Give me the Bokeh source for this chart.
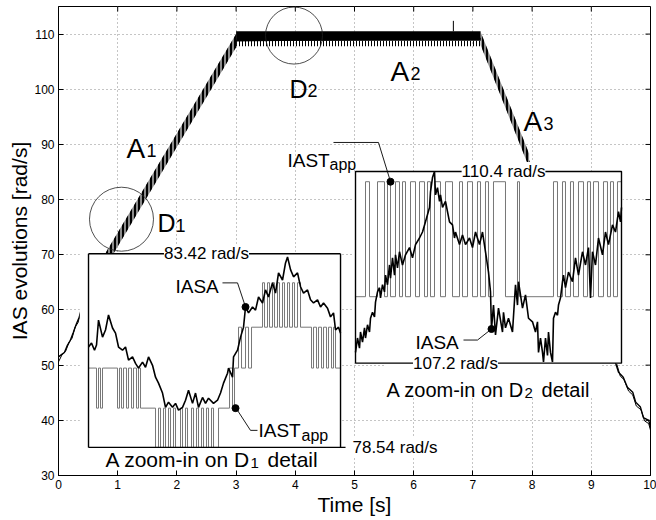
from bokeh.plotting import figure
from bokeh.models import Range1d, FixedTicker, Label
from bokeh.embed import file_html
from bokeh.resources import INLINE

FONT = "Liberation Sans"

# ---------------- axis ticks ----------------
x_ticks = [0, 1, 2, 3, 4, 5, 6, 7, 8, 9, 10]
y_ticks = [30, 40, 50, 60, 70, 80, 90, 100, 110]

# ---------------- main IAS trace (rad/s vs s) ----------------
main_t = [0.00, 0.05, 0.10, 0.15, 0.20, 0.25, 0.30, 0.35, 0.40, 0.88, 1.50, 2.00, 2.50, 2.90, 3.00,
          7.13, 7.50, 7.92, 9.41, 9.46, 9.54, 9.61, 9.70, 9.75, 9.83, 9.88, 9.97, 10.00]
main_y = [51.5, 51.9, 52.3, 53.6, 54.5, 55.9, 57.4, 58.7, 60.8, 70.6, 81.6, 90.8, 100.0, 107.2, 108.8,
          109.2, 99.2, 87.6, 50.4, 48.7, 47.8, 46.0, 45.1, 43.3, 42.4, 40.5, 40.0, 38.7]
# second (overlapping) trace, visible at the start and at the end
main2_start_t = [0.00, 0.06, 0.12, 0.18, 0.23, 0.28, 0.33, 0.38, 0.40]
main2_start_y = [50.6, 51.9, 52.5, 54.2, 54.9, 56.9, 57.7, 59.8, 60.3]
main2_end_t = [9.43, 9.49, 9.55, 9.63, 9.70, 9.76, 9.84, 9.90, 9.97, 10.00]
main2_end_y = [50.2, 48.0, 47.4, 45.3, 44.6, 42.6, 41.9, 39.9, 39.4, 38.2]

# oscillation envelopes (A1 rise, A2 plateau, A3 fall)
rise_t = [0.80, 3.00]
rise_lo = [67.9, 107.6]
rise_hi = [70.4, 110.0]
plateau_t = [3.00, 7.13]
plateau_lo = [108.8, 108.8]
plateau_hi = [110.5, 110.5]
plateau_comb_lo = [107.8, 107.8]
fall_t = [7.13, 7.95]
fall_lo = [108.0, 85.8]
fall_hi = [110.4, 88.3]
spike_t = [6.67]
spike_y0 = [110.5]
spike_y1 = [112.4]

# ---------------- inset D1 (samples, rad/s) ----------------
in1_xlim = [0, 252]
in1_ylim = [78.54, 83.42]
in1_gray_x = [0, 8, 10, 12, 14,
              29, 31, 33, 35, 38, 40, 43, 45, 48, 50, 52,
              67, 70, 72, 75, 77, 80, 82, 85, 87, 92, 94, 97, 99, 103, 105, 108, 110, 113, 115, 118, 120, 123, 125, 130,
              141, 144, 146, 150, 153, 157, 160, 163,
              174, 176, 179, 181, 184, 186, 189, 191, 194, 196, 199, 201, 204, 206, 209, 212,
              223, 225, 228, 230, 233, 235, 238, 240, 243, 245, 247, 252]
in1_gray_y = [80.54, 79.53, 80.54, 79.53, 80.54,
              79.53, 80.54, 79.53, 80.54, 79.53, 80.54, 79.53, 80.54, 79.53, 80.54, 79.53,
              78.54, 79.53, 78.54, 79.53, 78.54, 79.53, 78.54, 79.53, 78.54, 79.53, 78.54, 79.53, 78.54, 79.53, 78.54, 79.53,
              78.54, 79.53, 78.54, 79.53, 78.54, 79.53, 78.54, 79.53,
              80.54, 79.53, 80.54, 81.57, 80.54, 81.57, 80.54, 81.57,
              82.69, 81.57, 82.69, 81.57, 82.69, 81.57, 82.69, 81.57, 82.69, 81.57, 82.69, 81.57, 82.69, 81.57, 82.69, 81.57,
              80.54, 81.57, 80.54, 81.57, 80.54, 81.57, 80.54, 81.57, 80.54, 81.57, 80.54, 80.54]
in1_black_x = [0, 3, 6, 8, 10, 14, 17, 20, 24, 27, 30, 34, 37, 40, 44, 47, 50, 54, 57, 60,
               64, 67, 70, 74, 77, 80, 84, 87, 90, 94, 97, 100, 104, 107, 110, 114, 117, 120, 125, 129,
               132, 135, 139, 140, 144, 145, 149, 152, 155, 157, 160, 164, 167, 170, 174, 177, 180, 184, 187, 190,
               194, 197, 199, 202, 205, 209, 212, 215, 219, 222, 225, 229, 232, 235, 239, 242, 245, 247, 250, 252]
in1_black_y = [81.07, 81.17, 80.99, 81.12, 81.75, 81.32, 81.50, 81.88, 81.55, 81.42,
               81.07, 80.99, 81.07, 80.74, 80.82, 80.66, 80.54, 80.69, 80.56, 80.82,
               80.61, 80.31, 80.16, 79.91, 79.55, 79.68, 79.55, 79.65, 79.48, 79.55,
               79.73, 79.98, 79.65, 79.91, 79.55, 79.80, 79.65, 79.78, 79.65, 79.73,
               79.91, 80.16, 80.41, 80.54, 80.31, 80.82, 80.99, 81.32, 81.57, 82.08,
               81.93, 82.08, 82.00, 82.33, 82.18, 82.51, 82.33, 82.69, 82.43, 82.94,
               82.76, 83.19, 83.34, 83.02, 82.84, 82.94, 82.59, 82.43, 82.51, 82.26,
               82.18, 82.26, 82.08, 82.18, 82.05, 81.83, 81.93, 81.50, 81.57, 81.42]
in1_iasa_dot = (157, 82.08)
in1_iast_dot = (147, 79.53)

# ---------------- inset D2 (samples, rad/s) ----------------
in2_xlim = [0, 266]
in2_ylim = [107.2, 110.4]
in2_gray_x = [0, 10, 14, 22, 29, 32, 35, 40, 44, 47, 50, 55, 60, 64, 69, 72, 75, 79, 85, 90,
              97, 104, 107, 112, 117, 122, 125, 130, 133, 138, 150, 162, 164, 198, 202,
              207, 210, 215, 218, 223, 228, 232, 235, 238, 243, 248, 252, 255, 258, 262, 266]
in2_gray_y = [108.31, 110.23] * 25 + [110.23]
in2_black_x = [0, 2, 4, 5, 7, 9, 10, 12, 14, 15, 17, 19, 20, 22, 24, 25, 27, 29, 30, 32,
               34, 35, 37, 39, 40, 42, 44, 47, 50, 54, 57, 60, 64, 67, 70, 74, 75, 77, 79, 80,
               82, 84, 85, 87, 90, 94, 97, 99, 100, 104, 107, 110, 114, 117, 120, 124, 127, 130, 133, 135,
               136, 138, 140, 143, 147, 148, 150, 153, 157, 160, 162, 163, 167, 170, 173, 177, 180, 182, 183, 185,
               187, 188, 190, 192, 193, 195, 197, 198, 200, 202, 203, 205, 207, 208, 210, 213, 217, 220, 223, 227,
               230, 233, 235, 237, 240, 243, 247, 250, 253, 257, 260, 263, 265, 266]
in2_black_y = [107.38, 107.62, 107.45, 107.72, 107.55, 107.79, 107.62, 107.84, 107.72, 107.95,
               108.05, 107.97, 108.22, 108.39, 108.46, 108.29, 108.51, 108.39, 108.67, 108.51,
               108.84, 108.62, 108.96, 108.67, 109.01, 108.79, 109.06, 108.84, 109.01, 109.13,
               108.96, 109.18, 109.29, 109.39, 109.56, 109.80, 110.06, 110.30, 110.40, 110.01,
               110.13, 109.90, 110.01, 109.80, 109.90, 109.56, 109.51, 109.29, 109.39, 109.18,
               109.34, 109.18, 109.29, 109.13, 109.39, 109.18, 109.39, 109.06, 108.72, 108.39,
               107.77, 108.17, 107.67, 108.12, 107.72, 108.05, 107.79, 107.95, 107.72, 108.51,
               108.17, 108.56, 108.12, 108.34, 107.95, 107.89, 107.72, 107.89, 107.38, 107.62,
               107.38, 107.22, 107.62, 107.33, 107.72, 107.38, 107.22, 107.95, 108.05, 108.00,
               108.17, 108.29, 108.56, 108.67, 108.46, 108.72, 108.56, 108.96, 108.67, 109.06,
               108.84, 109.13, 108.29, 109.06, 108.84, 109.29, 109.01, 109.39, 109.18, 109.51,
               109.39, 109.73, 109.56, 109.80]
in2_iasa_dot = (136, 107.77)
in2_iast_dot = (35, 110.23)

# ---------------- layout of insets inside the main axes (main data coords) ----------------
IN1_BOX = (0.507, 4.764, 35.09, 70.18)
IN2_BOX = (5.017, 9.510, 50.36, 85.09)
X_MAIN = (0, 10)
Y_MAIN = (30, 115)
FRAME_W, FRAME_H = 592, 469
TICK_PX = 5


def extra_range(lim, m0, m1, main):
    lo, hi = lim
    s = (hi - lo) / (m1 - m0)
    return Range1d(lo - (m0 - main[0]) * s, hi + (main[1] - m1) * s)


p = figure(width=656, height=520, x_range=Range1d(*X_MAIN), y_range=Range1d(*Y_MAIN),
           output_backend="svg", toolbar_location=None,
           min_border_left=58, min_border_right=6, min_border_top=6, min_border_bottom=45)
p.background_fill_color = "white"
p.border_fill_color = "white"
p.outline_line_color = "black"
p.outline_line_width = 1

p.extra_x_ranges = {"i1x": extra_range(in1_xlim, IN1_BOX[0], IN1_BOX[1], X_MAIN),
                    "i2x": extra_range(in2_xlim, IN2_BOX[0], IN2_BOX[1], X_MAIN)}
p.extra_y_ranges = {"i1y": extra_range(in1_ylim, IN1_BOX[2], IN1_BOX[3], Y_MAIN),
                    "i2y": extra_range(in2_ylim, IN2_BOX[2], IN2_BOX[3], Y_MAIN)}

# axes
for ax in p.xaxis:
    ax.ticker = FixedTicker(ticks=x_ticks)
    ax.axis_label = "Time [s]"
    ax.major_label_standoff = 4
    ax.axis_label_standoff = 1
for ax in p.yaxis:
    ax.ticker = FixedTicker(ticks=y_ticks)
    ax.axis_label = "IAS evolutions [rad/s]"
    ax.major_label_standoff = 4
    ax.axis_label_standoff = 0
for ax in list(p.xaxis) + list(p.yaxis):
    ax.major_tick_in = TICK_PX
    ax.major_tick_out = 0
    ax.minor_tick_line_color = None
    ax.axis_line_color = "black"
    ax.major_tick_line_color = "black"
    ax.major_label_text_font = FONT
    ax.major_label_text_font_size = "12px"
    ax.major_label_text_color = "black"
    ax.axis_label_text_font = FONT
    ax.axis_label_text_font_size = "21px"
    ax.axis_label_text_font_style = "normal"
    ax.axis_label_text_color = "black"

p.grid.grid_line_color = "#8a8a8a"
p.grid.grid_line_dash = "1 3"
p.grid.grid_line_width = 1

# inward ticks on the top and right edges of the box (mirrors of the axis ticks)
dy_tick = TICK_PX * (Y_MAIN[1] - Y_MAIN[0]) / FRAME_H
dx_tick = TICK_PX * (X_MAIN[1] - X_MAIN[0]) / FRAME_W
p.segment(x0=x_ticks, y0=[Y_MAIN[1]] * len(x_ticks), x1=x_ticks, y1=[Y_MAIN[1] - dy_tick] * len(x_ticks),
          line_color="black", line_width=1)
p.segment(x0=[X_MAIN[1]] * len(y_ticks), y0=y_ticks, x1=[X_MAIN[1] - dx_tick] * len(y_ticks), y1=y_ticks,
          line_color="black", line_width=1)

# ---------------- main trace ----------------
p.line(main_t, main_y, line_color="black", line_width=1.4)
p.line(main2_start_t, main2_start_y, line_color="black", line_width=1.0)
p.line(main2_end_t, main2_end_y, line_color="black", line_width=1.0)
for bt, blo, bhi in ((rise_t, rise_lo, rise_hi), (fall_t, fall_lo, fall_hi)):
    p.varea(x=bt, y1=blo, y2=bhi, fill_color="#8c8c8c", fill_alpha=1.0, hatch_pattern="|",
            hatch_scale=4, hatch_weight=2.0, hatch_color="black")
p.varea(x=plateau_t, y1=plateau_lo, y2=plateau_hi, fill_color="black")
p.varea(x=plateau_t, y1=plateau_comb_lo, y2=plateau_lo, fill_color=None, hatch_pattern="|",
        hatch_scale=3, hatch_weight=1.0, hatch_color="black")
p.segment(x0=spike_t, y0=spike_y0, x1=spike_t, y1=spike_y1, line_color="black", line_width=1)

# detail circles
p.scatter([1.064], [76.45], size=64, marker="circle", fill_color=None, line_color="#222222", line_width=0.8)
p.scatter([3.978], [109.73], size=57, marker="circle", fill_color=None, line_color="#222222", line_width=0.8)

# ---------------- inset backgrounds ----------------
p.quad(left=[0.36], right=[IN1_BOX[1] + 0.02], bottom=[30.0], top=[IN1_BOX[3]],
       fill_color="white", line_color=None)
p.quad(left=[IN2_BOX[0] - 0.03], right=[IN2_BOX[1] + 0.02], bottom=[IN2_BOX[2]], top=[IN2_BOX[3]],
       fill_color="white", line_color=None)
p.quad(left=[5.52], right=[9.16], bottom=[44.3], top=[IN2_BOX[2]],
       fill_color="white", line_color=None)

# ---------------- inset D1 ----------------
r1 = dict(x_range_name="i1x", y_range_name="i1y")
p.step(in1_gray_x, in1_gray_y, mode="after", line_color="#777777", line_width=1.0, **r1)
p.line(in1_black_x, in1_black_y, line_color="black", line_width=1.6, **r1)
p.multi_line(xs=[[in1_xlim[0], in1_xlim[0]], [in1_xlim[1], in1_xlim[1]],
                 [in1_xlim[0], in1_xlim[1] + 5], [in1_xlim[0], in1_xlim[1]]],
             ys=[[in1_ylim[0], in1_ylim[1]], [in1_ylim[0], in1_ylim[1]],
                 [in1_ylim[0], in1_ylim[0]], [in1_ylim[1], in1_ylim[1]]],
             line_color="black", line_width=1.4, **r1)
p.scatter([in1_iasa_dot[0], in1_iast_dot[0]], [in1_iasa_dot[1], in1_iast_dot[1]],
          size=7, marker="circle", fill_color="black", line_color="black", **r1)

# ---------------- inset D2 ----------------
r2 = dict(x_range_name="i2x", y_range_name="i2y")
p.step(in2_gray_x, in2_gray_y, mode="after", line_color="#777777", line_width=1.0, **r2)
p.line(in2_black_x, in2_black_y, line_color="black", line_width=1.6, **r2)
p.quad(left=[in2_xlim[0]], right=[in2_xlim[1]], bottom=[in2_ylim[0]], top=[in2_ylim[1]],
       fill_color=None, line_color="black", line_width=1.4, **r2)
p.scatter([in2_iasa_dot[0], in2_iast_dot[0]], [in2_iasa_dot[1], in2_iast_dot[1]],
          size=7, marker="circle", fill_color="black", line_color="black", **r2)

# leader lines (main coords)
p.multi_line(xs=[[2.770, 3.024, 3.159], [2.990, 3.243, 3.361], [6.841, 7.078, 7.314], [4.645, 5.405, 5.608]],
             ys=[[64.91, 64.91, 60.55], [42.36, 38.18, 38.18], [54.55, 54.55, 56.55], [90.36, 90.36, 83.27]],
             line_color="black", line_width=0.9)


# ---------------- texts ----------------
def lab(x, y, text, size, align="left", baseline="alphabetic", bg=None):
    kw = dict(x=x, y=y, text=text, text_font=FONT, text_font_size=f"{size}px",
              text_align=align, text_baseline=baseline, text_color="black")
    if bg:
        kw.update(background_fill_color=bg, background_fill_alpha=1.0)
    p.add_layout(Label(**kw))


# region labels
lab(1.149, 89.35, "A", 28); lab(1.486, 88.98, "1", 18)
lab(5.608, 103.16, "A", 28); lab(5.946, 102.8, "2", 18)
lab(7.855, 94.07, "A", 28); lab(8.193, 93.71, "3", 18)
lab(1.672, 75.71, "D", 25); lab(1.976, 75.35, "1", 18)
lab(3.902, 100.07, "D", 25); lab(4.206, 99.71, "2", 18)

# inset scale labels
lab(2.50, IN1_BOX[3], "83.42 rad/s", 17, align="center", baseline="middle", bg="white")
lab(4.966, IN1_BOX[2], "78.54 rad/s", 17, align="left", baseline="middle", bg="white")
lab(7.517, IN2_BOX[3], "110.4 rad/s", 17, align="center", baseline="middle", bg="white")
lab(6.706, IN2_BOX[2], "107.2 rad/s", 17, align="center", baseline="middle", bg="white")

# signal names
lab(1.976, 64.2, "IASA", 19)
lab(3.378, 38.1, "IAST", 19); lab(4.105, 37.2, "app", 16)
lab(6.030, 54.1, "IASA", 19)
lab(3.868, 87.0, "IAST", 19); lab(4.578, 86.45, "app", 16)

# captions
lab(0.794, 32.9, "A zoom-in on D", 21); lab(3.243, 32.35, "1", 15); lab(3.530, 32.9, "detail", 21)
lab(5.540, 45.45, "A zoom-in on D", 20); lab(7.870, 44.9, "2", 15); lab(8.160, 45.45, "detail", 20)

open("out.html", "w").write(file_html(p, INLINE))
